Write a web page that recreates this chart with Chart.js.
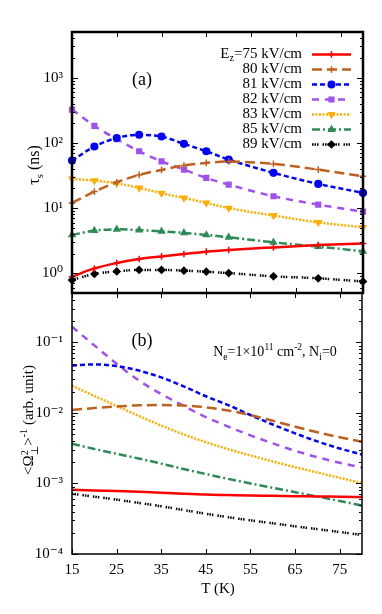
<!DOCTYPE html>
<html>
<head>
<meta charset="utf-8">
<script src="https://cdn.jsdelivr.net/npm/chart.js@4.4.1/dist/chart.umd.min.js"></script>
<style>
  body { margin: 0; width: 382px; height: 614px; background: #fff; position: relative; overflow: hidden;
         font-family: "Liberation Serif", "DejaVu Serif", serif; color: #000; }
  canvas { position: absolute; left: 0; }
  #chartA { top: 0; }
  #chartB { top: 285px; }
  .lbl { position: absolute; white-space: nowrap; transform: translate(-50%, -50%); line-height: 1; }
  .rot { transform: translate(-50%, -50%) rotate(-90deg); }
  sub, sup { font-size: 68%; line-height: 0; }
  .stack { display: inline-flex; flex-direction: column; font-size: 68%; line-height: 0.95; vertical-align: middle; }
</style>
</head>
<body>
<canvas id="chartA" width="382" height="300"></canvas>
<canvas id="chartB" width="382" height="329"></canvas>

<div class="lbl" style="left:142px;top:79px;font-size:18px">(a)</div>
<div class="lbl" style="left:142px;top:340px;font-size:18px">(b)</div>
<div class="lbl" style="left:275px;top:352px;font-size:14px">N<sub>e</sub>=1×10<sup>11</sup> cm<sup>-2</sup>, N<sub>i</sub>=0</div>
<div class="lbl rot" style="left:34px;top:165px;font-size:16px">τ<sub>s</sub> (ns)</div>
<div class="lbl rot" style="left:30px;top:420px;font-size:15px">&lt;Ω<span class="stack"><span>2</span><span>⊥</span></span>&gt;<sup>-1</sup> (arb. unit)</div>
<div class="lbl" style="left:218px;top:588px;font-size:15px">T (K)</div>

<script>
// temperatures (K)
const T_A = [15, 20, 25, 30, 35, 40, 45, 50, 60, 70, 80];
const T_B = [15, 20, 25, 30, 35, 40, 45, 50, 55, 60, 65, 70, 75, 80];
const X_TICKS = [15, 25, 35, 45, 55, 65, 75];
const E_FIELDS = [75, 80, 81, 82, 83, 85, 89];

// panel (a): tau_s (ns)
const tau75 = [0.89, 1.19, 1.44, 1.66, 1.82, 1.98, 2.15, 2.28, 2.5, 2.72, 2.88];
const tau80 = [12, 17.9, 24.9, 32.3, 38.5, 45, 49.3, 51.7, 47.6, 38.9, 30.7];
const tau81 = [53.5, 87.8, 119, 133, 125, 96.5, 74.3, 55.5, 34.7, 23.5, 17.1];
const tau82 = [324, 182, 114, 74.3, 52, 38.9, 29, 22.9, 15.2, 11.3, 8.83];
const tau83 = [28, 26.4, 24, 20.4, 16.9, 14.3, 12, 10, 7.7, 6.05, 5.08];
const tau85 = [3.88, 4.52, 4.73, 4.6, 4.41, 4.17, 3.88, 3.57, 2.99, 2.57, 2.18];
const tau89 = [0.79, 0.98, 1.07, 1.13, 1.13, 1.1, 1.06, 1.01, 0.9, 0.84, 0.75];

// panel (b): <Omega^2>^-1 (arb. unit)
const om75 = [8.13e-4, 7.95e-4, 7.8e-4, 7.6e-4, 7.4e-4, 7.15e-4, 6.95e-4, 6.85e-4, 6.75e-4, 6.68e-4, 6.6e-4, 6.55e-4, 6.48e-4, 6.42e-4];
const om80 = [0.011, 0.0117, 0.0123, 0.0128, 0.0129, 0.0127, 0.012, 0.0108, 0.0093, 0.00774, 0.00637, 0.0053, 0.00451, 0.00391];
const om81 = [0.0469, 0.0486, 0.046, 0.0398, 0.0318, 0.0238, 0.0172, 0.0129, 0.00933, 0.00684, 0.00513, 0.00394, 0.00313, 0.00257];
const om82 = [0.166, 0.0906, 0.0497, 0.0287, 0.0185, 0.0126, 0.0087, 0.0064, 0.0048, 0.0037, 0.0029, 0.00235, 0.00196, 0.00168];
const om83 = [0.0243, 0.0174, 0.0125, 0.00904, 0.00662, 0.00497, 0.00385, 0.00306, 0.00249, 0.00205, 0.0017, 0.00143, 0.0012, 0.00101];
const om85 = [0.00366, 0.00308, 0.00263, 0.00225, 0.00191, 0.0016, 0.00136, 0.00116, 0.001, 0.000867, 0.000752, 0.000652, 0.000564, 0.000485];
const om89 = [7.13e-4, 6.5e-4, 5.9e-4, 5.3e-4, 4.75e-4, 4.2e-4, 3.72e-4, 3.32e-4, 3.0e-4, 2.72e-4, 2.47e-4, 2.25e-4, 2.05e-4, 1.86e-4];

const styles = [
  { color: '#ff0000', dash: [], point: 'cross', rot: 0 },
  { color: '#c0601e', dash: [10, 5], point: 'cross', rot: 0 },
  { color: '#0000ff', dash: [5, 3], point: 'circle', rot: 0 },
  { color: '#a050f0', dash: [7, 6], point: 'rect', rot: 0 },
  { color: '#ffae00', dash: [2, 1.5], point: 'triangle', rot: 180 },
  { color: '#2e8b57', dash: [8, 3, 2, 3], point: 'triangle', rot: 0 },
  { color: '#000000', dash: [1.5, 1, 1.5, 1, 1.5, 4], point: 'rectRot', rot: 0 }
];

const FONT = '"Liberation Serif", "DejaVu Serif", serif';
const SUP = { '-': '⁻', '0': '⁰', '1': '¹', '2': '²', '3': '³', '4': '⁴' };
const powLabel = v => '10' + String(Math.round(Math.log10(v))).split('').map(c => SUP[c]).join('');

function makeSets(T, series, withPoints) {
  return series.map((vals, i) => ({
    label: E_FIELDS[i] + ' kV/cm',
    data: vals.map((v, k) => ({ x: T[k], y: v })),
    borderColor: styles[i].color,
    backgroundColor: styles[i].color,
    borderDash: styles[i].dash,
    borderWidth: 2.5,
    pointStyle: styles[i].point,
    rotation: styles[i].rot,
    pointRadius: withPoints ? 3.3 : 0,
    pointBorderWidth: 1.5,
    cubicInterpolationMode: 'monotone',
    clip: false
  }));
}

// frame + inward ticks like gnuplot
const frameTicks = {
  id: 'frameTicks',
  afterDatasetsDraw(chart, args, opts) {
    const { ctx, chartArea: a, scales: { x, y } } = chart;
    ctx.save();
    ctx.strokeStyle = '#000';
    ctx.lineWidth = 1;
    ctx.setLineDash([]);
    ctx.beginPath();
    X_TICKS.forEach(v => {
      const px = Math.round(x.getPixelForValue(v)) + 0.5;
      ctx.moveTo(px, a.bottom); ctx.lineTo(px, a.bottom - 5);
      ctx.moveTo(px, a.top); ctx.lineTo(px, a.top + 5);
    });
    for (let e = -5; e <= 4; e++) {
      for (let m = 1; m < 10; m++) {
        const v = m * Math.pow(10, e);
        if (v < y.min || v > y.max) continue;
        const py = Math.round(y.getPixelForValue(v)) + 0.5;
        const len = m === 1 ? 6 : 3;
        ctx.moveTo(a.left, py); ctx.lineTo(a.left + len, py);
        ctx.moveTo(a.right, py); ctx.lineTo(a.right - len, py);
      }
    }
    ctx.stroke();
    ctx.lineWidth = opts.width;
    ctx.strokeRect(a.left, a.top, a.right - a.left, a.bottom - a.top);
    ctx.restore();
  }
};

// gnuplot style key: text right aligned, then line sample with marker
const keyPlugin = {
  id: 'keyPlugin',
  afterDraw(chart) {
    const ctx = chart.ctx;
    const textRight = 302, x0 = 312, x1 = 351, top = 54.5, step = 15;
    ctx.save();
    chart.data.datasets.forEach((ds, i) => {
      const yy = top + i * step;
      ctx.fillStyle = '#000';
      ctx.textBaseline = 'middle';
      ctx.textAlign = 'right';
      ctx.font = '15px ' + FONT;
      if (i === 0) {
        const rest = '=' + ds.label;
        ctx.fillText(rest, textRight, yy);
        const wRest = ctx.measureText(rest).width;
        ctx.font = '10px ' + FONT;
        const wz = ctx.measureText('z').width;
        ctx.fillText('z', textRight - wRest, yy + 4);
        ctx.font = '15px ' + FONT;
        ctx.fillText('E', textRight - wRest - wz, yy);
      } else {
        ctx.fillText(ds.label, textRight, yy);
      }
      ctx.strokeStyle = ds.borderColor;
      ctx.fillStyle = ds.backgroundColor;
      ctx.lineWidth = ds.borderWidth;
      ctx.setLineDash(ds.borderDash);
      ctx.beginPath();
      ctx.moveTo(x0, yy); ctx.lineTo(x1, yy);
      ctx.stroke();
      ctx.setLineDash([]);
      ctx.lineWidth = 1.5;
      Chart.helpers.drawPoint(ctx, { pointStyle: ds.pointStyle, rotation: ds.rotation, radius: 3.3, borderWidth: 1.5 }, (x0 + x1) / 2, yy);
    });
    ctx.restore();
  }
};

function xScale(show) {
  return {
    type: 'linear', min: 15, max: 80, display: show,
    afterBuildTicks: s => { s.ticks = X_TICKS.map(v => ({ value: v })); },
    afterFit: s => { if (show) s.height = 60; s.paddingLeft = 0; s.paddingRight = 0; },
    grid: { display: false, drawTicks: false },
    border: { display: false },
    ticks: { padding: 7, color: '#000', font: { family: FONT, size: 15 }, maxRotation: 0 }
  };
}
function yScale(min, max) {
  return {
    type: 'logarithmic', min: min, max: max,
    afterBuildTicks: s => {
      const t = [];
      for (let e = -5; e <= 4; e++) { const v = Math.pow(10, e); if (v >= min && v <= max) t.push({ value: v }); }
      s.ticks = t;
    },
    afterFit: s => { s.width = 72; s.paddingTop = 0; s.paddingBottom = 0; },
    grid: { display: false, drawTicks: false },
    border: { display: false },
    ticks: { padding: 9, color: '#000', font: { family: FONT, size: 15 }, callback: v => powLabel(v) }
  };
}

Chart.defaults.animation = false;

new Chart(document.getElementById('chartA').getContext('2d'), {
  type: 'line',
  data: { datasets: makeSets(T_A, [tau75, tau80, tau81, tau82, tau83, tau85, tau89], true) },
  options: {
    responsive: false,
    layout: { padding: { left: 0, right: 19, top: 32, bottom: 7 } },
    scales: { x: xScale(false), y: yScale(0.5, 5000) },
    plugins: { legend: { display: false }, tooltip: { enabled: false }, frameTicks: { width: 2.5 } }
  },
  plugins: [frameTicks, keyPlugin]
});

new Chart(document.getElementById('chartB').getContext('2d'), {
  type: 'line',
  data: { datasets: makeSets(T_B, [om75, om80, om81, om82, om83, om85, om89], false) },
  options: {
    responsive: false,
    layout: { padding: { left: 0, right: 20, top: 8, bottom: 0 } },
    scales: { x: xScale(true), y: yScale(1e-4, 0.5) },
    plugins: { legend: { display: false }, tooltip: { enabled: false }, frameTicks: { width: 1.5 } }
  },
  plugins: [frameTicks]
});
</script>
</body>
</html>
